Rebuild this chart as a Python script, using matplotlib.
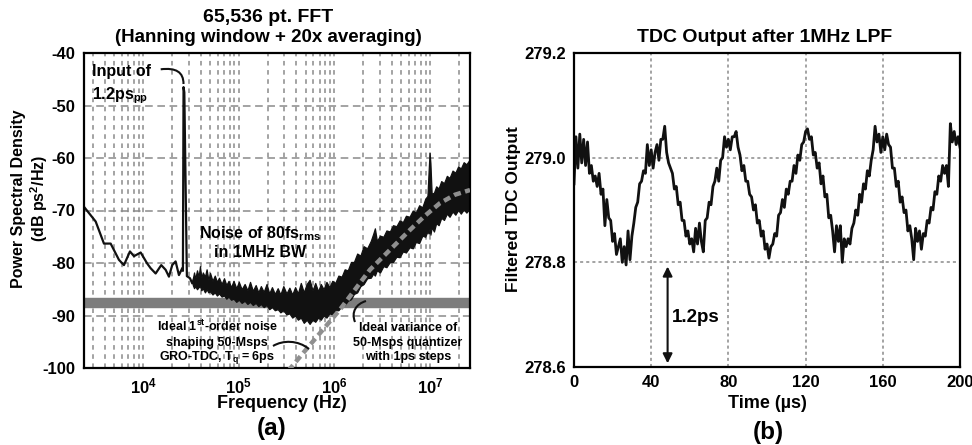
import matplotlib
matplotlib.use('Agg')
import matplotlib.pyplot as plt
import numpy as np
from matplotlib.path import Path
from matplotlib.patches import PathPatch

plt.rcParams['font.family'] = ['Liberation Sans', 'DejaVu Sans']
plt.rcParams['font.weight'] = 'bold'
plt.rcParams['axes.unicode_minus'] = False
plt.rcParams['mathtext.fontset'] = 'custom'
plt.rcParams['mathtext.rm'] = 'Liberation Sans:bold'
plt.rcParams['mathtext.bf'] = 'Liberation Sans:bold'
plt.rcParams['mathtext.it'] = 'Liberation Sans:bold'
plt.rcParams['mathtext.default'] = 'bf'

# ---- (a) spectrum, low frequency trace incl. the input tone
low_freq = [2400, 3180, 3880, 4560, 5570, 6280, 7260, 8000, 9400, 11000, 11950,
            13480, 15430, 17150, 18570, 20100, 21800, 23620, 25570, 26000, 26400,
            26900, 28600, 30800, 32600, 34000]
low_psd = [-69.3, -72.1, -76.3, -76.3, -79.4, -80.4, -77.8, -78.7, -78.0, -80.1, -81.0,
           -82.0, -80.4, -81.3, -82.6, -80.4, -79.7, -82.3, -81.0, -81.5, -46.5,
           -47.5, -82.5, -82.9, -83.9, -83.0]

# dense noise floor, read as upper / lower envelope
band_freq = [33000, 34000, 35000, 36500, 38000, 39200, 40500, 42000, 44200, 46000,
             48000, 50000, 53000, 56000, 59000, 62000, 66000, 70000, 74000, 78000,
             83000, 88000, 94000, 100000, 107000, 115000, 123000, 131000, 140000, 150000,
             160000, 170000, 182000, 195000, 208000, 222000, 238000, 255000, 272000, 292000,
             315000, 338000, 362000, 388000, 415000, 445000, 478000, 512000, 550000, 590000,
             630000, 675000, 720000, 770000, 825000, 885000, 950000, 1.02e6, 1.1e6, 1.19e6,
             1.28e6, 1.38e6, 1.49e6, 1.6e6, 1.73e6, 1.87e6, 2.02e6, 2.2e6, 2.4e6, 2.55e6,
             2.65e6, 2.78e6, 3.0e6, 3.25e6, 3.5e6, 3.8e6, 4.1e6, 4.45e6, 4.8e6, 5.2e6,
             5.6e6, 6.1e6, 6.6e6, 7.1e6, 7.7e6, 8.3e6, 8.9e6, 9.4e6, 9.7e6, 9.9e6,
             1.01e7, 1.04e7, 1.1e7, 1.16e7, 1.23e7, 1.31e7, 1.4e7, 1.5e7, 1.6e7, 1.72e7,
             1.84e7, 1.97e7, 2.1e7, 2.25e7, 2.4e7, 2.62e7]
band_hi = [-83.0, -81.8, -83.0, -81.4, -82.6, -80.6, -82.8, -81.8, -82.6, -81.2,
           -83.2, -81.9, -83.4, -82.4, -83.6, -82.8, -84.0, -82.9, -84.2, -83.4,
           -84.6, -83.4, -84.8, -83.6, -85.0, -84.0, -85.2, -83.6, -85.3, -84.2,
           -85.6, -84.4, -85.5, -84.0, -85.8, -84.6, -85.9, -84.8, -86.0, -84.4,
           -85.8, -84.7, -86.0, -84.6, -85.8, -83.8, -85.6, -84.0, -83.2, -85.2,
           -83.8, -85.4, -84.0, -85.0, -83.6, -84.6, -83.4, -83.8, -82.4, -82.6,
           -81.2, -81.4, -79.8, -79.8, -78.2, -78.6, -76.8, -77.2, -75.8, -74.4,
           -73.4, -75.8, -74.8, -75.0, -73.8, -74.0, -72.8, -73.0, -71.9, -72.2,
           -71.0, -71.2, -70.0, -70.4, -69.0, -69.4, -67.8, -67.2, -62.0, -59.0,
           -61.0, -66.8, -66.6, -65.4, -65.8, -64.4, -64.8, -63.4, -63.8, -62.4,
           -62.8, -61.6, -62.0, -60.8, -61.2, -60.2]
band_lo = [-84.2, -84.8, -84.4, -85.0, -84.6, -84.4, -85.2, -84.8, -85.6, -85.0,
           -85.6, -85.4, -86.0, -85.6, -86.2, -85.8, -86.4, -86.2, -86.8, -86.4,
           -87.0, -86.8, -87.4, -87.0, -87.6, -87.2, -87.8, -87.4, -88.0, -87.6,
           -88.2, -87.8, -88.4, -88.0, -88.8, -88.4, -89.0, -88.8, -89.4, -89.0,
           -89.8, -89.6, -90.4, -90.0, -90.8, -90.4, -91.4, -90.8, -91.6, -90.8,
           -91.2, -90.4, -90.8, -90.0, -90.4, -89.6, -89.8, -89.0, -89.0, -88.2,
           -88.0, -87.2, -86.9, -85.9, -85.6, -84.4, -84.0, -82.9, -82.8, -82.0,
           -82.4, -81.4, -81.8, -80.6, -80.8, -79.8, -79.8, -78.8, -78.9, -77.8,
           -78.0, -77.0, -77.2, -76.0, -76.2, -74.8, -75.0, -74.0, -74.4, -73.4,
           -74.6, -73.2, -74.0, -72.4, -72.8, -71.4, -71.8, -70.6, -71.2, -70.2,
           -70.8, -69.9, -70.6, -69.8, -70.4, -69.6]

# ideal 1st-order noise shaping curve and quantizer variance level
ideal_freq = [3.3e5, 5.55e5, 1.14e6, 2.35e6, 3.81e6, 6.17e6, 8.85e6, 1.27e7, 1.82e7, 2.62e7]
ideal_psd = [-100.5, -95.6, -88.9, -81.3, -77.5, -73.7, -71.0, -68.6, -67.0, -66.1]
quant_level = -87.7

# ---- (b) filtered TDC output, one value per microsecond
time_us = list(range(201))
tdc_out = [
    278.95, 279.04, 278.98, 279.045, 278.99, 279.035, 278.985, 279.03, 278.97, 278.985,
    278.955, 278.965, 278.945, 278.97, 278.93, 278.94, 278.87, 278.92, 278.885, 278.88,
    278.84, 278.855, 278.815, 278.83, 278.845, 278.80, 278.83, 278.795, 278.86, 278.805,
    278.85, 278.875, 278.905, 278.915, 278.95, 278.955, 278.975, 278.97, 279.025, 278.985,
    279.015, 278.98, 279.01, 279.025, 278.995, 279.035, 279.035, 279.06, 279.01, 278.99,
    278.98, 278.97, 278.94, 278.945, 278.91, 278.915, 278.88, 278.88, 278.85, 278.86,
    278.835, 278.845, 278.82, 278.865, 278.835, 278.875, 278.84, 278.82, 278.88, 278.885,
    278.915, 278.91, 278.945, 278.955, 278.98, 278.955, 278.995, 279.00, 279.04, 279.02,
    279.035, 279.015, 279.04, 279.04, 279.05, 279.02, 279.005, 278.975, 278.985, 278.955,
    278.955, 278.93, 278.925, 278.90, 278.91, 278.875, 278.88, 278.85, 278.86, 278.825,
    278.835, 278.808, 278.83, 278.835, 278.855, 278.85, 278.89, 278.895, 278.92, 278.905,
    278.94, 278.93, 278.955, 278.955, 278.985, 278.97, 279.005, 278.995, 279.025, 279.03,
    279.05, 279.055, 279.035, 279.04, 279.005, 279.01, 278.98, 278.99, 278.95, 278.965,
    278.925, 278.93, 278.885, 278.89, 278.86, 278.82, 278.87, 278.84, 278.87, 278.80,
    278.845, 278.83, 278.845, 278.835, 278.865, 278.875, 278.90, 278.89, 278.93, 278.915,
    278.95, 278.94, 278.975, 278.965, 278.995, 279.015, 279.06, 279.03, 279.045, 279.01,
    279.04, 279.015, 279.045, 279.025, 279.02, 278.98, 278.98, 278.945, 278.955, 278.915,
    278.925, 278.895, 278.90, 278.86, 278.87, 278.845, 278.805, 278.865, 278.84, 278.86,
    278.825, 278.855, 278.85, 278.88, 278.875, 278.905, 278.90, 278.935, 278.93, 278.965,
    278.955, 278.985, 278.97, 278.985, 278.945, 279.065, 279.03, 279.05, 279.025, 279.04,
    279.02]

W, H = 972, 445
fig = plt.figure(figsize=(W / 100, H / 100), dpi=100)
ax1 = fig.add_axes([84 / W, 1 - 368 / H, 386 / W, 315 / H])
ax2 = fig.add_axes([574 / W, 1 - 367 / H, 386 / W, 314 / H])

grid_c = '#8a8a8a'

# ---------------- panel (a)
ax1.set_xscale('log')
ax1.set_xlim(2.4e3, 2.62e7)
ax1.set_ylim(-100, -40)
ax1.set_yticks(range(-100, -39, 10))
ax1.set_xticks([1e4, 1e5, 1e6, 1e7])
ax1.set_xticklabels([r'$10^{4}$', r'$10^{5}$', r'$10^{6}$', r'$10^{7}$'])
ax1.xaxis.set_minor_locator(matplotlib.ticker.LogLocator(base=10, subs=range(2, 10), numticks=20))
ax1.xaxis.set_minor_formatter(matplotlib.ticker.NullFormatter())
ax1.set_axisbelow(True)
ax1.grid(which='major', axis='y', color=grid_c, lw=1.1, ls=(0, (5, 3)))
ax1.grid(which='both', axis='x', color=grid_c, lw=1.1, ls=(0, (3, 3)))
ax1.tick_params(which='both', length=0, labelsize=12, pad=6)

ax1.axhline(quant_level, color='#7d7d7d', lw=7.5, zorder=1.5)
ax1.fill_between(band_freq, band_lo, band_hi, color='#111111', lw=0.9, zorder=2)
ax1.plot(low_freq, low_psd, color='#111111', lw=1.6, zorder=2.2)
ax1.plot(ideal_freq, ideal_psd, color='#8f8f8f', lw=3.2, dashes=(1.6, 1.0), zorder=3)

def axfrac(x, y):
    return ((x - 84) / 386, (368 - y) / 315)

ax1.text(*axfrac(92, 76), 'Input of', fontsize=11.5, ha='left', va='baseline', transform=ax1.transAxes)
ax1.text(*axfrac(92, 99), r'1.2ps$_{pp}$', fontsize=11.5, ha='left', va='baseline', transform=ax1.transAxes)
ax1.text(*axfrac(260, 238), r'Noise of 80fs$_{rms}$', fontsize=11.5, ha='center', va='baseline',
         transform=ax1.transAxes)
ax1.text(*axfrac(260, 257), 'in 1MHz BW', fontsize=11.5, ha='center', va='baseline', transform=ax1.transAxes)
for txt, yy in [(r'Ideal 1$^{st}$-order noise', 331), ('shaping 50-Msps', 346),
                (r'GRO-TDC, T$_{q}$ = 6ps', 360)]:
    ax1.text(*axfrac(217, yy), txt, fontsize=9, ha='center', va='baseline', transform=ax1.transAxes)
for txt, yy in [('Ideal variance of', 331), ('50-Msps quantizer', 346), ('with 1ps steps', 360)]:
    ax1.text(*axfrac(408, yy), txt, fontsize=9, ha='center', va='baseline', transform=ax1.transAxes)

def leader(pts):
    verts = [(x / W, 1 - y / H) for x, y in pts]
    p = Path(verts, [Path.MOVETO, Path.CURVE4, Path.CURVE4, Path.CURVE4])
    fig.add_artist(PathPatch(p, fc='none', ec='#111111', lw=1.5, transform=fig.transFigure))

leader([(160.7, 69.3), (176, 67.5), (183.5, 72), (183.5, 84)])
leader([(273, 346), (283, 340), (298, 340), (309, 349)])
leader([(355, 322), (351, 312), (356, 304), (366, 301)])

for s in ax1.spines.values():
    s.set_linewidth(1.6)

# ---------------- panel (b)
ax2.plot(time_us, tdc_out, color='#111111', lw=2.0)
ax2.set_xlim(0, 200)
ax2.set_ylim(278.6, 279.2)
ax2.set_xticks(range(0, 201, 40))
ax2.set_yticks([278.6, 278.8, 279.0, 279.2])
ax2.set_yticklabels(['278.6', '278.8', '279.0', '279.2'])
ax2.set_axisbelow(True)
ax2.grid(color=grid_c, lw=1.1, ls=(0, (2, 2)))
ax2.tick_params(length=0, labelsize=12, pad=6)
ax2.annotate('', xy=(48.5, 278.607), xytext=(48.5, 278.792),
             arrowprops=dict(arrowstyle='<|-|>', color='#111111', lw=1.5, mutation_scale=14,
                             shrinkA=0, shrinkB=0))
ax2.text(50.5, 278.694, '1.2ps', fontsize=13.5, ha='left', va='center')
for s in ax2.spines.values():
    s.set_linewidth(1.6)

# ---------------- titles and labels
fig.text(268 / W, 1 - 17 / H, '65,536 pt. FFT', fontsize=14, ha='center', va='center')
fig.text(268 / W, 1 - 37 / H, '(Hanning window + 20x averaging)', fontsize=13.5, ha='center', va='center')
fig.text(765 / W, 1 - 38 / H, 'TDC Output after 1MHz LPF', fontsize=14, ha='center', va='center')
fig.text(282 / W, 1 - 403 / H, 'Frequency (Hz)', fontsize=13, ha='center', va='center')
fig.text(767 / W, 1 - 403 / H, 'Time (\u00b5s)', fontsize=13, ha='center', va='center')
fig.text(19 / W, 1 - 199 / H, 'Power Spectral Density', fontsize=11.5, rotation=90, ha='center', va='center')
fig.text(39 / W, 1 - 198 / H, r'(dB ps$^{2}$/Hz)', fontsize=11.5, rotation=90, ha='center', va='center')
fig.text(513 / W, 1 - 209 / H, 'Filtered TDC Output', fontsize=12.5, rotation=90, ha='center', va='center')
fig.text(272 / W, 1 - 428 / H, '(a)', fontsize=17.5, ha='center', va='center')
fig.text(768 / W, 1 - 433 / H, '(b)', fontsize=17.5, ha='center', va='center')

fig.savefig('out.png', dpi=100)
